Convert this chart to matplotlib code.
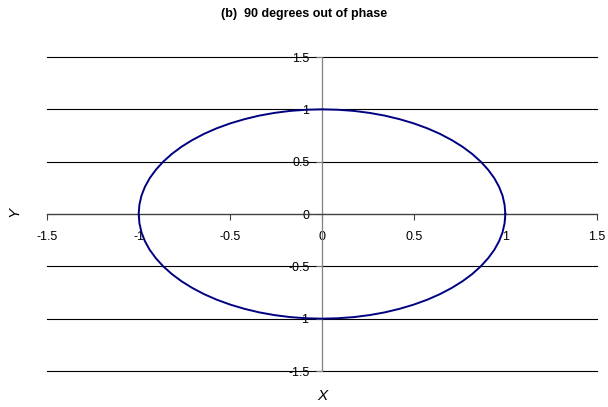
import matplotlib
matplotlib.use("Agg")
import matplotlib.pyplot as plt

# Lissajous figure, 90 degrees out of phase (points read every 5 degrees)
x_vals = [1.000, 0.996, 0.985, 0.966, 0.940, 0.906, 0.866, 0.819, 0.766, 0.707,
          0.643, 0.574, 0.500, 0.423, 0.342, 0.259, 0.174, 0.087, 0.000,
          -0.087, -0.174, -0.259, -0.342, -0.423, -0.500, -0.574, -0.643, -0.707,
          -0.766, -0.819, -0.866, -0.906, -0.940, -0.966, -0.985, -0.996, -1.000,
          -0.996, -0.985, -0.966, -0.940, -0.906, -0.866, -0.819, -0.766, -0.707,
          -0.643, -0.574, -0.500, -0.423, -0.342, -0.259, -0.174, -0.087, 0.000,
          0.087, 0.174, 0.259, 0.342, 0.423, 0.500, 0.574, 0.643, 0.707,
          0.766, 0.819, 0.866, 0.906, 0.940, 0.966, 0.985, 0.996, 1.000]
y_vals = [0.000, 0.087, 0.174, 0.259, 0.342, 0.423, 0.500, 0.574, 0.643, 0.707,
          0.766, 0.819, 0.866, 0.906, 0.940, 0.966, 0.985, 0.996, 1.000,
          0.996, 0.985, 0.966, 0.940, 0.906, 0.866, 0.819, 0.766, 0.707,
          0.643, 0.574, 0.500, 0.423, 0.342, 0.259, 0.174, 0.087, 0.000,
          -0.087, -0.174, -0.259, -0.342, -0.423, -0.500, -0.574, -0.643, -0.707,
          -0.766, -0.819, -0.866, -0.906, -0.940, -0.966, -0.985, -0.996, -1.000,
          -0.996, -0.985, -0.966, -0.940, -0.906, -0.866, -0.819, -0.766, -0.707,
          -0.643, -0.574, -0.500, -0.423, -0.342, -0.259, -0.174, -0.087, 0.000]
x_ticks = [-1.5, -1, -0.5, 0, 0.5, 1, 1.5]
y_ticks = [-1.5, -1, -0.5, 0, 0.5, 1, 1.5]
x_ticklabels = ["-1.5", "-1", "-0.5", "0", "0.5", "1", "1.5"]
y_ticklabels = ["-1.5", "-1", "-0.5", "0", "0.5", "1", "1.5"]
title = "(b)  90 degrees out of phase"

plt.rcParams['font.family'] = ['Liberation Sans', 'DejaVu Sans']

fig = plt.figure(figsize=(6.08, 4.07), dpi=100)
ax = fig.add_axes([47/608, 1 - 371/407, 550/608, 314/407])

ax.set_xlim(-1.5, 1.5)
ax.set_ylim(-1.5, 1.5)

for yv in y_ticks:
    ax.axhline(yv, color='black', lw=0.8, zorder=1, clip_on=False)

ax.plot(x_vals, y_vals, color='#000080', lw=1.4, zorder=3)

ax.spines['top'].set_visible(False)
ax.spines['right'].set_visible(False)
ax.spines['left'].set_position(('data', 0))
ax.spines['bottom'].set_position(('data', 0))
ax.spines['left'].set_color('#808080')
ax.spines['left'].set_linewidth(0.9)
ax.spines['bottom'].set_color('#404040')
ax.spines['bottom'].set_linewidth(0.9)
ax.spines['left'].set_zorder(2)
ax.spines['bottom'].set_zorder(2)

ax.set_xticks(x_ticks)
ax.set_xticklabels(x_ticklabels)
ax.set_yticks(y_ticks)
ax.set_yticklabels(y_ticklabels)
ax.tick_params(axis='x', direction='out', length=4, width=0.8, color='#404040',
               labelsize=9, pad=8)
ax.tick_params(axis='y', direction='out', length=4, width=0.8, color='#808080',
               labelsize=9, pad=5)

fig.text(304/608, 1 - 14/407, title, ha='center', va='center',
         fontsize=9, fontweight='bold')
fig.text(322/608, 1 - 396/407, "X", ha='center', va='center',
         fontsize=11, style='italic')
fig.text(14/608, 1 - 212/407, "Y", ha='center', va='center',
         fontsize=11, style='italic', rotation=90)

fig.savefig("out.png", dpi=100)
